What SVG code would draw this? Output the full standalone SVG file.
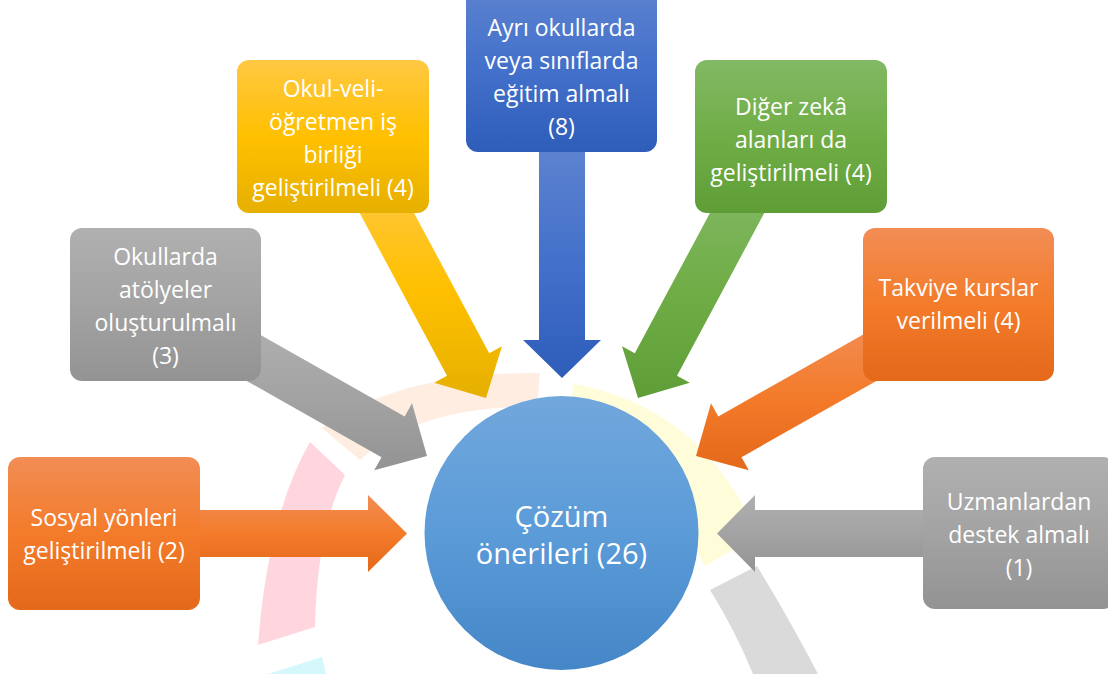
<svg xmlns="http://www.w3.org/2000/svg" width="1108" height="674" viewBox="0 0 1108 674">
<defs>
<linearGradient id="gOrange" x1="0" y1="0" x2="0" y2="1"><stop offset="0" stop-color="#F28D55"/><stop offset="0.5" stop-color="#F37B2A"/><stop offset="1" stop-color="#E4691A"/></linearGradient>
<linearGradient id="gGray" x1="0" y1="0" x2="0" y2="1"><stop offset="0" stop-color="#B0B0B0"/><stop offset="0.5" stop-color="#A3A3A3"/><stop offset="1" stop-color="#939393"/></linearGradient>
<linearGradient id="gYellow" x1="0" y1="0" x2="0" y2="1"><stop offset="0" stop-color="#FFC843"/><stop offset="0.5" stop-color="#FFC000"/><stop offset="1" stop-color="#E6B000"/></linearGradient>
<linearGradient id="gBlue" x1="0" y1="0" x2="0" y2="1"><stop offset="0" stop-color="#5C82CF"/><stop offset="0.5" stop-color="#4270CA"/><stop offset="1" stop-color="#2E5DBA"/></linearGradient>
<linearGradient id="gGreen" x1="0" y1="0" x2="0" y2="1"><stop offset="0" stop-color="#82B964"/><stop offset="0.5" stop-color="#70AD47"/><stop offset="1" stop-color="#5F9E36"/></linearGradient>
<linearGradient id="gCircle" x1="0" y1="0" x2="0" y2="1"><stop offset="0" stop-color="#71A7DC"/><stop offset="0.5" stop-color="#5B9BD8"/><stop offset="1" stop-color="#4486C7"/></linearGradient>
</defs>
<style>
.t{font-family:"Open Sans","Noto Sans","DejaVu Sans",sans-serif;font-size:23px;fill:#FFFFFF;text-anchor:middle;}
.tc{font-family:"Open Sans","Noto Sans","DejaVu Sans",sans-serif;font-size:29px;fill:#FFFFFF;text-anchor:middle;}
</style>
<rect x="0" y="0" width="1108" height="674" fill="#FFFFFF"/>
<g id="background">
<path d="M310,442 Q268,515 258,645 L315,627 Q317,530 345,475 Z" fill="#FFD6DD"/>
<path d="M322,428 Q400,372 540,373 L537,407 Q420,405 360,460 Z" fill="#FEEDE0"/>
<path d="M574,384 Q686,404 743,505 L750,540 L705,566 L680,520 Q640,430 570,405 Z" fill="#FFFDD9"/>
<path d="M710,590 L757,566 Q790,620 818,674 L753,674 Q735,630 710,590 Z" fill="#DADADA"/>
<path d="M268,674 L322,657 L326,674 Z" fill="#D4F8FC"/>
</g>
<g id="connectors">
<polygon points="395.7,178.8 489.2,353.2 502,346.3 486,398 434.2,382.7 447,375.8 353.5,201.4" fill="url(#gYellow)"/>
<polygon points="728.3,178.8 634.8,353.2 622,346.3 638,398 689.8,382.7 677,375.8 770.5,201.4" fill="url(#gGreen)"/>
<polygon points="884.5,322.4 718.3,416.4 711,403.3 696,456 748.8,470.3 741.5,457.2 907.7,363.2" fill="url(#gOrange)"/>
<polygon points="238.5,322.4 404.7,416.4 412,403.3 427,456 374.2,470.3 381.5,457.2 215.3,363.2" fill="url(#gGray)"/>
<polygon points="150,510 368,510 368,495 407,533.5 368,572 368,557 150,557" fill="url(#gOrange)"/>
<polygon points="990,510 755,510 755,495 717,533.5 755,572 755,557 990,557" fill="url(#gGray)"/>
<polygon points="539,152 585,152 585,340 601,340 562,378 523,340 539,340" fill="url(#gBlue)"/>
</g>
<g id="node-center">
<ellipse cx="561.5" cy="533" rx="137" ry="137" fill="url(#gCircle)"/>
<text class="tc" x="561.5" y="527">Çözüm</text>
<text class="tc" x="561.5" y="564">önerileri (26)</text>
</g>
<g id="node-ayri">
<rect x="466" y="-12" width="191" height="164" rx="12" fill="url(#gBlue)"/>
<text class="t" x="561.5" y="36">Ayrı okullarda</text>
<text class="t" x="561.5" y="69">veya sınıflarda</text>
<text class="t" x="561.5" y="102">eğitim almalı</text>
<text class="t" x="561.5" y="135">(8)</text>
</g>
<g id="node-okulveli">
<rect x="237" y="60" width="192" height="153" rx="12" fill="url(#gYellow)"/>
<text class="t" x="333" y="97">Okul-veli-</text>
<text class="t" x="333" y="130">öğretmen iş</text>
<text class="t" x="333" y="163">birliği</text>
<text class="t" x="333" y="196">geliştirilmeli (4)</text>
</g>
<g id="node-diger">
<rect x="695" y="60" width="192" height="153" rx="12" fill="url(#gGreen)"/>
<text class="t" x="791" y="115">Diğer zekâ</text>
<text class="t" x="791" y="148">alanları da</text>
<text class="t" x="791" y="181">geliştirilmeli (4)</text>
</g>
<g id="node-atolye">
<rect x="70" y="228" width="191" height="153" rx="12" fill="url(#gGray)"/>
<text class="t" x="165.5" y="265">Okullarda</text>
<text class="t" x="165.5" y="298">atölyeler</text>
<text class="t" x="165.5" y="331">oluşturulmalı</text>
<text class="t" x="165.5" y="364">(3)</text>
</g>
<g id="node-takviye">
<rect x="863" y="228" width="191" height="153" rx="12" fill="url(#gOrange)"/>
<text class="t" x="958.5" y="296">Takviye kurslar</text>
<text class="t" x="958.5" y="329">verilmeli (4)</text>
</g>
<g id="node-sosyal">
<rect x="8" y="457" width="192" height="153" rx="12" fill="url(#gOrange)"/>
<text class="t" x="104" y="526">Sosyal yönleri</text>
<text class="t" x="104" y="559">geliştirilmeli (2)</text>
</g>
<g id="node-uzman">
<rect x="923" y="457" width="192" height="152" rx="12" fill="url(#gGray)"/>
<text class="t" x="1019" y="510">Uzmanlardan</text>
<text class="t" x="1019" y="543">destek almalı</text>
<text class="t" x="1019" y="576">(1)</text>
</g>
</svg>
